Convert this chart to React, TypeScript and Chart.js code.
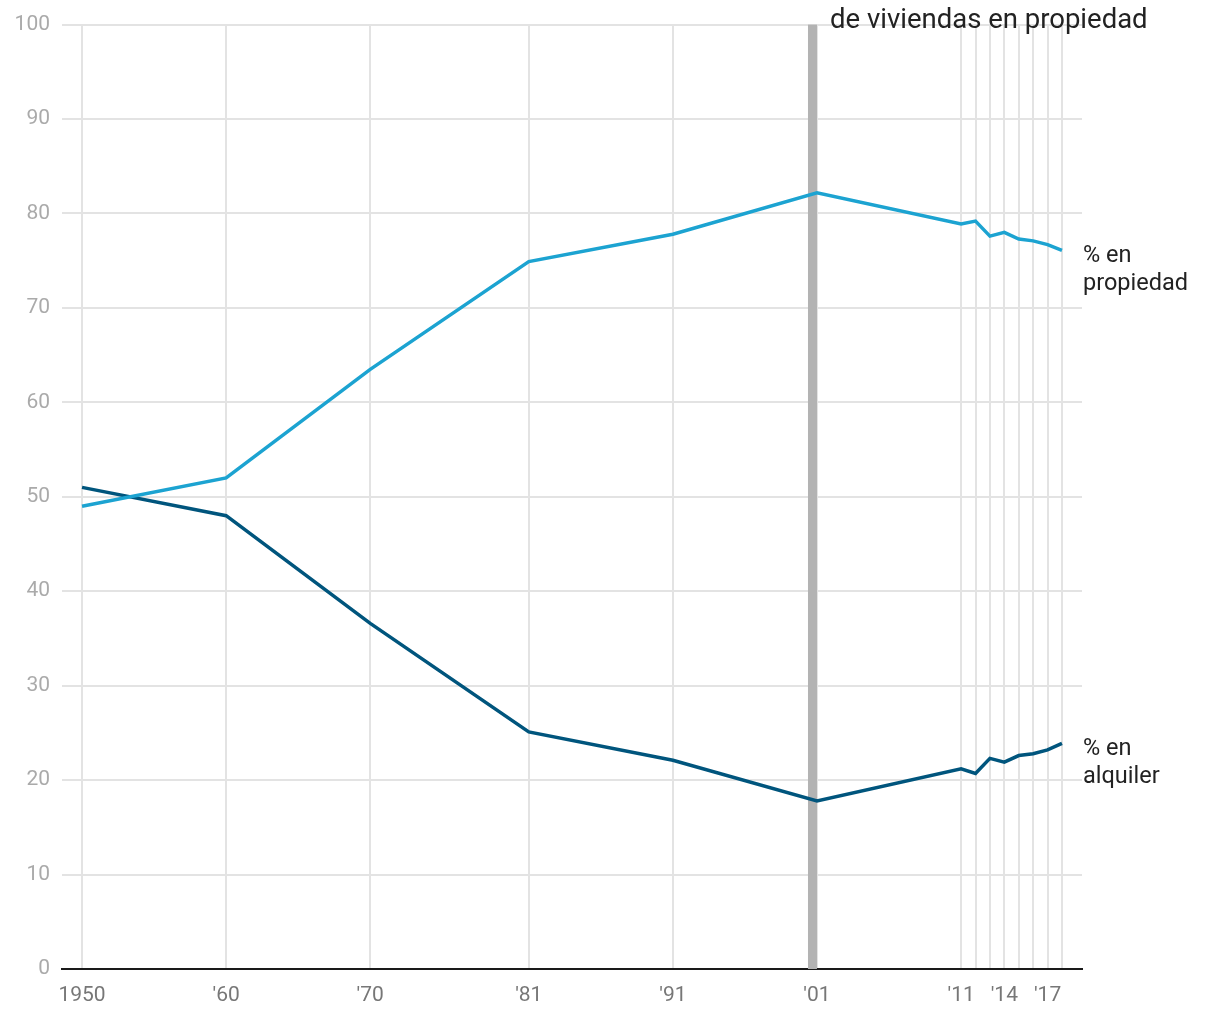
import React, { useEffect, useRef } from "react";
import { Chart, registerables } from "chart.js";

Chart.register(...registerables);

const years = [1950, 1960, 1970, 1981, 1991, 2001, 2011, 2012, 2013, 2014, 2015, 2016, 2017, 2018];
const propiedad = [49.0, 52.0, 63.5, 74.9, 77.8, 82.2, 78.9, 79.2, 77.6, 78.0, 77.3, 77.1, 76.7, 76.1];
const alquiler = [51.0, 48.0, 36.6, 25.1, 22.1, 17.8, 21.2, 20.7, 22.3, 21.9, 22.6, 22.8, 23.2, 23.9];
const tickYears = [1950, 1960, 1970, 1981, 1991, 2001, 2011, 2012, 2013, 2014, 2015, 2016, 2017, 2018];
const tickLabels = ["1950", "'60", "'70", "'81", "'91", "'01", "'11", "", "", "'14", "", "", "'17", ""];
const highlightYear = 2001;
const titleText = "de viviendas en propiedad";
const seriesLabels = [["% en", "propiedad"], ["% en", "alquiler"]];

const COLOR_PROP = "#1ca3d1";
const COLOR_ALQ = "#00557d";
const FONT = "Roboto, 'Noto Sans', sans-serif";

export default function App() {
  const ref = useRef<HTMLCanvasElement | null>(null);

  useEffect(() => {
    if (!ref.current) return;
    const overlay = {
      id: "overlay",
      beforeDatasetsDraw(chart: any) {
        const { ctx, chartArea, scales } = chart;
        const x = scales.x.getPixelForValue(highlightYear);
        ctx.save();
        ctx.fillStyle = "#b3b3b3";
        ctx.fillRect(x - 9, chartArea.top, 9, chartArea.bottom - chartArea.top);
        ctx.restore();
      },
      afterDatasetsDraw(chart: any) {
        const { ctx, scales } = chart;
        ctx.save();
        ctx.fillStyle = "#222";
        ctx.textBaseline = "middle";
        ctx.textAlign = "left";
        ctx.font = `23.5px ${FONT}`;
        const lastIdx = years.length - 1;
        const data = [propiedad, alquiler];
        data.forEach((arr, i) => {
          const yp = scales.y.getPixelForValue(arr[lastIdx]);
          const xp = scales.x.getPixelForValue(years[lastIdx]) + 21;
          seriesLabels[i].forEach((t, j) => {
            ctx.fillText(t, xp, yp + 6 + j * 28);
          });
        });
        ctx.font = `27.5px ${FONT}`;
        const xt = scales.x.getPixelForValue(highlightYear) + 13;
        ctx.fillText(titleText, xt, 21);
        ctx.restore();
      },
    };

    const chart = new Chart(ref.current, {
      type: "line",
      data: {
        datasets: [
          {
            label: "propiedad",
            data: years.map((y, i) => ({ x: y, y: propiedad[i] })),
            borderColor: COLOR_PROP,
            borderWidth: 3.5,
            pointRadius: 0,
            tension: 0,
          },
          {
            label: "alquiler",
            data: years.map((y, i) => ({ x: y, y: alquiler[i] })),
            borderColor: COLOR_ALQ,
            borderWidth: 3.5,
            pointRadius: 0,
            tension: 0,
          },
        ],
      },
      options: {
        responsive: false,
        animation: false,
        layout: { padding: { left: 0, right: 138, top: 24, bottom: 0 } },
        plugins: { legend: { display: false }, tooltip: { enabled: false } },
        scales: {
          x: {
            type: "linear",
            min: 1948.61,
            max: 2019.39,
            afterBuildTicks(scale: any) {
              scale.ticks = tickYears.map((v) => ({ value: v }));
            },
            afterFit(scale: any) {
              scale.height = 51;
            },
            grid: { color: "#e3e3e3", lineWidth: 2, drawTicks: false },
            border: { display: true, color: "#1a1a1a", width: 2 },
            ticks: {
              autoSkip: false,
              maxRotation: 0,
              padding: 14,
              color: "#777",
              font: { family: FONT, size: 21 },
              callback(value: any) {
                const idx = tickYears.indexOf(Number(value));
                return idx >= 0 ? tickLabels[idx] : "";
              },
            },
          },
          y: {
            min: 0,
            max: 100,
            afterFit(scale: any) {
              scale.width = 62;
            },
            grid: { color: "#e3e3e3", lineWidth: 2, drawTicks: false },
            border: { display: false },
            ticks: {
              stepSize: 10,
              padding: 12,
              color: "#aaa",
              font: { family: FONT, size: 21 },
            },
          },
        },
      },
      plugins: [overlay],
    } as any);
    return () => chart.destroy();
  }, []);

  return (
    <div style={{ position: "fixed", left: 0, top: 0, width: 1220, height: 1020, background: "#fff" }}>
      <canvas ref={ref} width={1220} height={1020} style={{ width: 1220, height: 1020 }} />
    </div>
  );
}
